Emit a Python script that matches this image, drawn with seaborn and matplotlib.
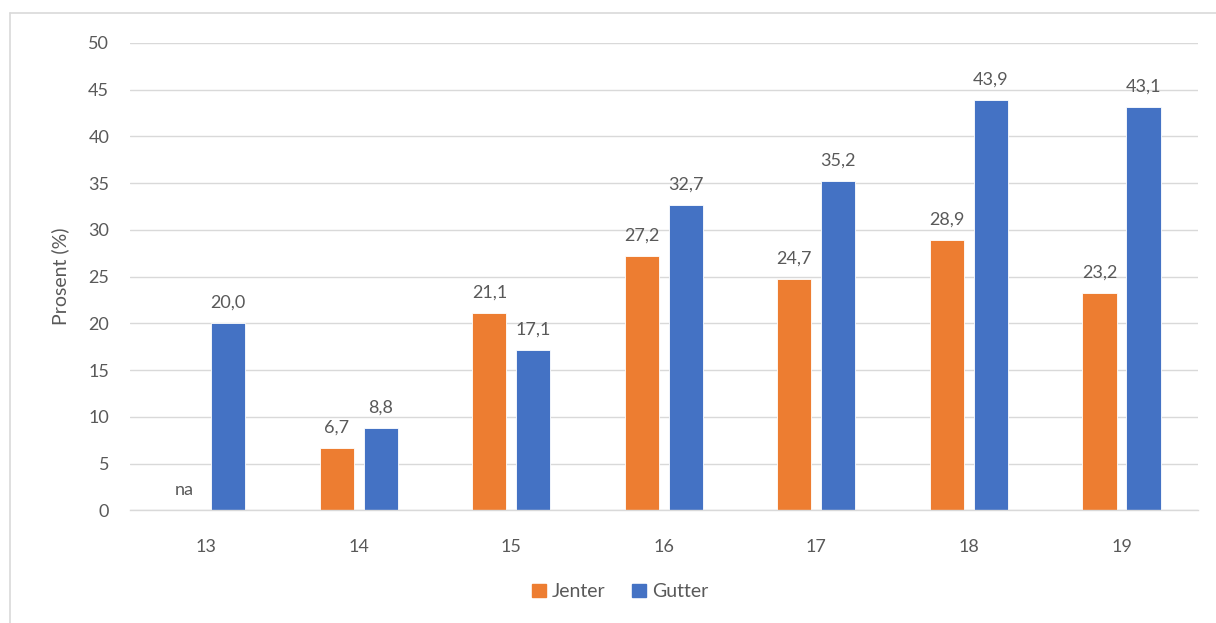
import numpy as np
import pandas as pd
import matplotlib
matplotlib.use("Agg")
import matplotlib.pyplot as plt
from matplotlib.lines import Line2D
from matplotlib.patches import Patch
import seaborn as sns

# Age groups and share (%) per gender
ages = ["13", "14", "15", "16", "17", "18", "19"]
jenter = [np.nan, 6.7, 21.1, 27.2, 24.7, 28.9, 23.2]
gutter = [20.0, 8.8, 17.1, 32.7, 35.2, 43.9, 43.1]
series_names = ["Jenter", "Gutter"]
y_ticks = [0, 5, 10, 15, 20, 25, 30, 35, 40, 45, 50]

ORANGE = "#ED7D31"
BLUE = "#4472C4"
TEXT = "#595959"
GRID = "#D9D9D9"

df = pd.DataFrame({
    "Alder": ages * 2,
    "Kjønn": [series_names[0]] * len(ages) + [series_names[1]] * len(ages),
    "Prosent": jenter + gutter,
})

sns.set_theme(style="white")
plt.rcParams["font.family"] = ["Lato", "DejaVu Sans"]

FS = 13
BAR_W = 0.577
GAP = 0.225

fig = plt.figure(figsize=(12.16, 6.23), dpi=100)
ax = fig.add_axes([0.1069, 0.181, 0.8781, 0.750])

sns.barplot(
    data=df, x="Alder", y="Prosent", hue="Kjønn", order=ages,
    hue_order=series_names, palette=[ORANGE, BLUE],
    width=BAR_W, gap=GAP, errorbar=None, ax=ax, legend=False,
    edgecolor="white", linewidth=0.6, saturation=1,
)

ax.set_ylim(0, 50)
ax.set_xlim(-0.5, len(ages) - 0.5)
ax.set_yticks(y_ticks)
ax.yaxis.grid(True, color=GRID, linewidth=1)
ax.set_axisbelow(True)
for s in ["top", "right", "left"]:
    ax.spines[s].set_visible(False)
ax.spines["bottom"].set_color(GRID)
ax.spines["bottom"].set_linewidth(1)
ax.tick_params(axis="both", length=0, labelsize=FS, labelcolor=TEXT)
ax.tick_params(axis="y", pad=15)
ax.tick_params(axis="x", pad=21)
ax.set_xlabel("")
ax.set_ylabel("Prosent (%)", fontsize=FS + 1, color=TEXT, labelpad=14)

def fmt(v):
    return f"{v:.1f}".replace(".", ",")

# Value labels, matched to bars by category position
slot = BAR_W / 2
for k, (cont, vals) in enumerate(zip(ax.containers, [jenter, gutter])):
    offset = (k - 0.5) * slot
    for i, v in enumerate(vals):
        x = i + offset
        lab = "na" if np.isnan(v) else fmt(v)
        h = 0 if np.isnan(v) else v
        ax.annotate(lab, (x, h), xytext=(0, 9), textcoords="offset points",
                    ha="center", va="bottom", fontsize=FS, color=TEXT)

handles = [Patch(facecolor=ORANGE, edgecolor=ORANGE),
           Patch(facecolor=BLUE, edgecolor=BLUE)]
fig.legend(handles, series_names, loc="center", bbox_to_anchor=(0.51, 0.05),
           ncol=2, frameon=False, fontsize=FS + 1, labelcolor=TEXT,
           handlelength=0.7, handleheight=0.7, handletextpad=0.3,
           columnspacing=1.4)

# Chart frame (left and top edges)
fig.add_artist(Line2D([10 / 1216, 10 / 1216], [0, 1 - 13 / 623],
                      transform=fig.transFigure, color=GRID, linewidth=1.2))
fig.add_artist(Line2D([10 / 1216, 1], [1 - 13 / 623, 1 - 13 / 623],
                      transform=fig.transFigure, color=GRID, linewidth=1.2))

fig.savefig("out.png", dpi=100, facecolor="white")
